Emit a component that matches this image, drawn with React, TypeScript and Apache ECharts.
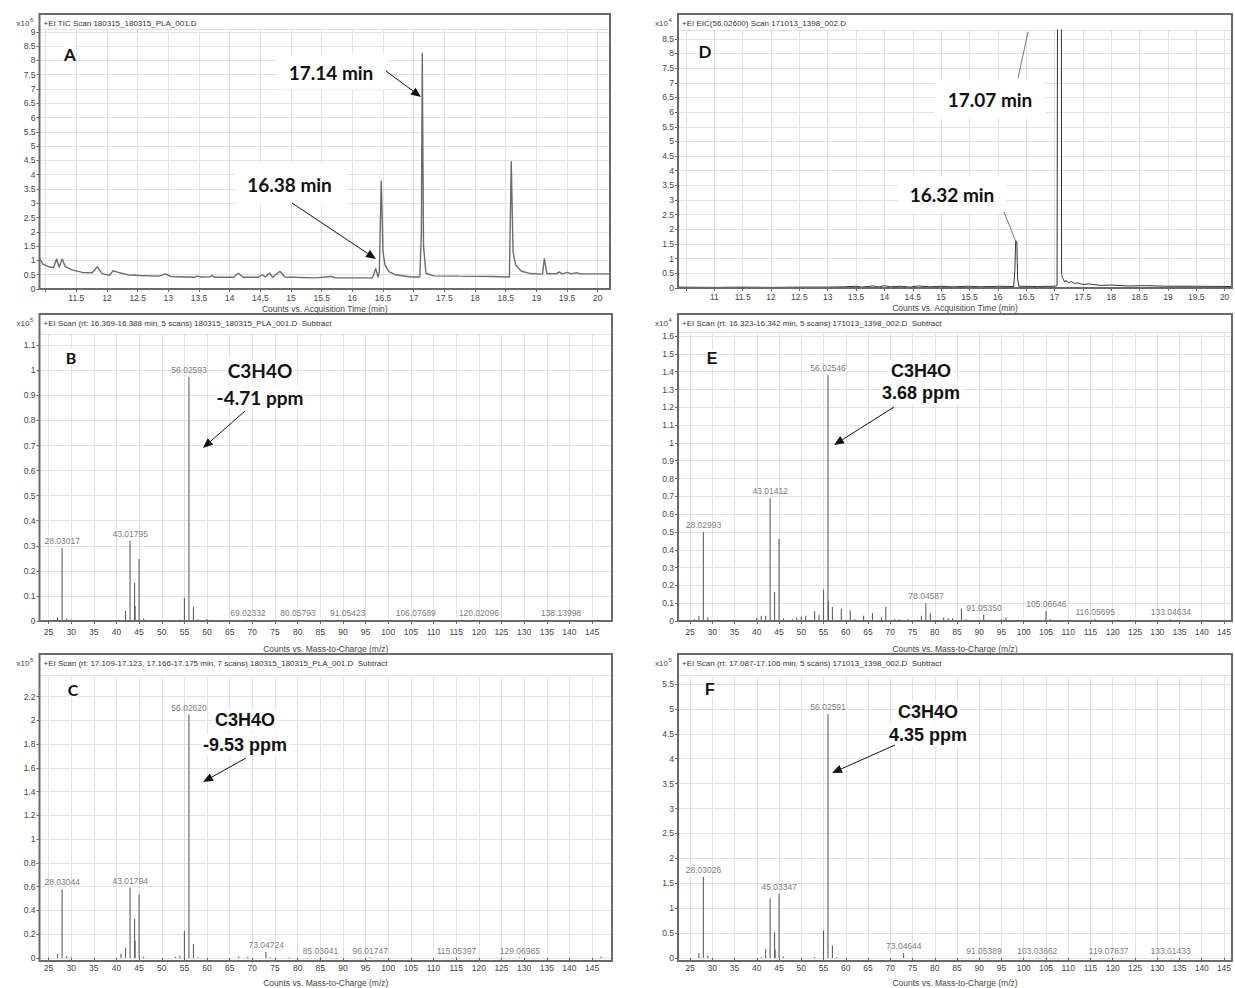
import React, { useEffect, useRef } from 'react';
import * as echarts from 'echarts';

// ---------- DATA ----------
// Panel A: TIC chromatogram (x10^6 counts) vs acquisition time (min)
const ticA: [number, number][] = [
  [10.9, 1.07], [10.96, 0.86], [11.05, 0.78], [11.13, 0.75], [11.18, 1.06], [11.22, 0.76], [11.27, 1.06],
  [11.32, 0.78], [11.44, 0.66], [11.6, 0.58], [11.76, 0.57], [11.84, 0.78], [11.92, 0.54], [12.04, 0.48],
  [12.1, 0.64], [12.17, 0.59], [12.33, 0.5], [12.53, 0.47], [12.85, 0.45], [12.95, 0.53], [13.04, 0.44],
  [13.42, 0.41], [13.48, 0.45], [13.53, 0.42], [13.68, 0.43], [13.71, 0.47], [13.76, 0.41], [14.06, 0.41],
  [14.14, 0.55], [14.22, 0.41], [14.47, 0.41], [14.53, 0.5], [14.58, 0.42], [14.65, 0.56], [14.7, 0.41],
  [14.82, 0.62], [14.9, 0.42], [15.4, 0.39], [15.66, 0.44], [15.72, 0.39], [16.33, 0.39], [16.38, 0.72],
  [16.42, 0.41], [16.44, 0.6], [16.47, 3.8], [16.5, 1.3], [16.53, 0.85], [16.6, 0.6], [16.7, 0.5],
  [16.95, 0.42], [17.1, 0.42], [17.125, 2.0], [17.14, 8.27], [17.16, 1.5], [17.2, 0.55], [17.33, 0.46],
  [17.72, 0.45], [18.29, 0.44], [18.56, 0.42], [18.59, 4.47], [18.62, 1.3], [18.66, 0.85], [18.75, 0.63],
  [18.9, 0.54], [19.1, 0.52], [19.13, 1.07], [19.17, 0.54], [19.33, 0.53], [19.37, 0.6], [19.42, 0.53],
  [19.51, 0.58], [19.56, 0.53], [19.66, 0.57], [19.71, 0.53], [20.2, 0.53],
];

// Panel D: EIC 56.02600 (x10^4 counts)
const eicD: [number, number][] = [
  [10.36, 0.03], [11, 0.02], [11.5, 0.03], [12, 0.02], [12.5, 0.03], [13, 0.03], [13.3, 0.04], [13.5, 0.06],
  [13.6, 0.03], [13.8, 0.07], [13.9, 0.04], [14, 0.08], [14.1, 0.04], [14.3, 0.06], [14.45, 0.03], [14.6, 0.07],
  [14.8, 0.04], [15, 0.06], [15.2, 0.04], [15.5, 0.06], [15.7, 0.04], [16, 0.06], [16.28, 0.05], [16.3, 0.6],
  [16.315, 1.58], [16.335, 1.58], [16.35, 0.3], [16.37, 0.06], [16.7, 0.05], [17.0, 0.06], [17.045, 0.08],
  [17.055, 12], [17.12, 12], [17.125, 0.5], [17.14, 0.35], [17.16, 0.28], [17.18, 0.2], [17.2, 0.26],
  [17.25, 0.18], [17.3, 0.22], [17.35, 0.15], [17.4, 0.18], [17.5, 0.12], [17.6, 0.14], [17.8, 0.09],
  [18.0, 0.1], [18.3, 0.07], [18.6, 0.08], [19, 0.06], [19.5, 0.06], [20.13, 0.05],
];

// Panel B: spectrum at 16.369-16.388 min (x10^5)
const specB: [number, number][] = [
  [25, 0.003], [27, 0.013], [28, 0.29], [29, 0.01], [30, 0.005], [39, 0.003], [41, 0.004], [42, 0.04],
  [43, 0.32], [44, 0.153], [44.12, 0.06], [45, 0.247], [46, 0.01], [47, 0.004], [49, 0.003], [53, 0.004],
  [54, 0.005], [55, 0.093], [56, 0.973], [57, 0.056], [58, 0.006], [60, 0.008], [61, 0.005], [63, 0.004],
  [69, 0.005], [80, 0.003], [91, 0.003], [96, 0.004], [106, 0.003], [120, 0.004], [138, 0.002],
];
const labelsB: [number, number, string][] = [
  [28.03, 0.29, '28.03017'], [43.018, 0.32, '43.01795'], [56.026, 0.973, '56.02593'],
  [69.023, 0.005, '69.02332'], [80.058, 0.003, '80.05793'], [91.054, 0.003, '91.05423'],
  [106.077, 0.003, '106.07689'], [120.021, 0.004, '120.02096'], [138.14, 0.002, '138.13998'],
];

// Panel C: spectrum at 17.109-17.175 min (x10^5)
const specC: [number, number][] = [
  [25, 0.005], [27, 0.033], [28, 0.577], [29, 0.015], [30, 0.005], [41, 0.036], [42, 0.084], [43, 0.593],
  [44, 0.33], [44.12, 0.145], [45, 0.535], [46, 0.012], [53, 0.01], [54, 0.02], [55, 0.23], [56, 2.05],
  [57, 0.117], [58, 0.006], [67, 0.012], [69, 0.01], [73, 0.05], [74, 0.006], [78, 0.005], [85, 0.004],
  [96, 0.004], [115, 0.004], [129, 0.004], [147, 0.012],
];
const labelsC: [number, number, string][] = [
  [28.03, 0.577, '28.03044'], [43.018, 0.593, '43.01794'], [56.026, 2.05, '56.02620'],
  [73.047, 0.05, '73.04724'], [85.03, 0.004, '85.03041'], [96.017, 0.004, '96.01747'],
  [115.054, 0.004, '115.05397'], [129.07, 0.004, '129.06985'],
];

// Panel E: spectrum at 16.323-16.342 min (x10^4)
const specE: [number, number][] = [
  [26, 0.01], [27, 0.03], [28, 0.5], [29, 0.02], [31, 0.005], [35, 0.006], [40, 0.02], [41, 0.03], [42, 0.03],
  [43, 0.69], [44, 0.163], [45, 0.46], [46, 0.015], [48, 0.01], [49, 0.02], [50, 0.025], [51, 0.03],
  [53, 0.055], [54, 0.035], [55, 0.177], [56, 1.38], [56.12, 0.11], [57, 0.08], [59, 0.07], [61, 0.06],
  [62, 0.01], [64, 0.03], [66, 0.045], [68, 0.02], [69, 0.08], [71, 0.01], [72, 0.01], [74, 0.01],
  [77, 0.03], [78, 0.1], [79, 0.045], [82, 0.02], [83, 0.015], [84, 0.015], [86, 0.07], [87, 0.01],
  [91, 0.035], [95, 0.01], [96, 0.02], [105, 0.055], [106, 0.01], [116, 0.01], [133, 0.01],
];
const labelsE: [number, number, string][] = [
  [28.03, 0.5, '28.02993'], [43.014, 0.69, '43.01412'], [56.025, 1.38, '56.02546'],
  [78.046, 0.1, '78.04587'], [91.054, 0.035, '91.05350'], [105.066, 0.055, '105.06646'],
  [116.057, 0.01, '116.05695'], [133.046, 0.01, '133.04634'],
];

// Panel F: spectrum at 17.087-17.106 min (x10^5)
const specF: [number, number][] = [
  [27, 0.1], [28, 1.63], [29, 0.05], [41, 0.02], [42, 0.18], [43, 1.2], [44, 0.51], [44.12, 0.17],
  [45, 1.29], [46, 0.03], [53, 0.02], [55, 0.55], [56, 4.89], [57, 0.25], [58, 0.02], [73, 0.1],
  [91, 0.005], [103, 0.005], [119, 0.005], [133, 0.005],
];
const labelsF: [number, number, string][] = [
  [28.03, 1.63, '28.03026'], [45.033, 1.29, '45.03347'], [56.026, 4.89, '56.02591'],
  [73.046, 0.1, '73.04644'], [91.054, 0.005, '91.05389'], [103.037, 0.005, '103.03662'],
  [119.078, 0.005, '119.07837'], [133.014, 0.005, '133.01433'],
];

const panelTitles = [
  '+EI TIC Scan 180315_180315_PLA_001.D',
  '+EI EIC(56.02600) Scan 171013_1398_002.D',
  '+EI Scan (rt: 16.369-16.388 min, 5 scans) 180315_180315_PLA_001.D  Subtract',
  '+EI Scan (rt: 16.323-16.342 min, 5 scans) 171013_1398_002.D  Subtract',
  '+EI Scan (rt: 17.109-17.123, 17.166-17.175 min, 7 scans) 180315_180315_PLA_001.D  Subtract',
  '+EI Scan (rt: 17.087-17.106 min, 5 scans) 171013_1398_002.D  Subtract',
];
const exponents = ['6', '4', '5', '4', '5', '5'];
const panelLetters = ['A', 'D', 'B', 'E', 'C', 'F'];
const timeAxisName = 'Counts vs. Acquisition Time (min)';
const mzAxisName = 'Counts vs. Mass-to-Charge (m/z)';

// ---------- LAYOUT ----------
const SMALL = '"Liberation Sans", Arial, sans-serif';
const grids = [
  { left: 39.5, top: 29, width: 570.5, height: 260 }, // A
  { left: 678, top: 30, width: 554, height: 258 }, // D
  { left: 39.5, top: 334, width: 572.5, height: 287 }, // B
  { left: 678, top: 332, width: 554, height: 289 }, // E
  { left: 39.5, top: 675, width: 572.5, height: 286 }, // C
  { left: 678, top: 675, width: 554, height: 286 }, // F
];
const boxTops = [14, 14, 314, 314, 654, 654];
const xCfg = [
  { min: 10.9, max: 20.2, iv: 0.5, hide: [11], name: timeAxisName, gap: 15, margin: 4 },
  { min: 10.36, max: 20.13, iv: 0.5, hide: [10.5], name: timeAxisName, gap: 15, margin: 4 },
  { min: 23.01, max: 149.4, iv: 5, hide: [], name: mzAxisName, gap: 23, margin: 6 },
  { min: 22.3, max: 146.8, iv: 5, hide: [], name: mzAxisName, gap: 23, margin: 6 },
  { min: 23.01, max: 149.4, iv: 5, hide: [], name: mzAxisName, gap: 20, margin: 5 },
  { min: 22.3, max: 146.8, iv: 5, hide: [], name: mzAxisName, gap: 20, margin: 5 },
];
const yCfg = [
  { max: 9.1, iv: 0.5 },
  { max: 8.8, iv: 0.5 },
  { max: 1.145, iv: 0.1 },
  { max: 1.623, iv: 0.1 },
  { max: 2.383, iv: 0.2 },
  { max: 5.68, iv: 0.5 },
];

function arrow(x1: number, y1: number, x2: number, y2: number, head = 10) {
  const ang = Math.atan2(y2 - y1, x2 - x1);
  const bx = x2 - head * Math.cos(ang);
  const by = y2 - head * Math.sin(ang);
  const w = head * 0.42;
  const px = -Math.sin(ang) * w;
  const py = Math.cos(ang) * w;
  return [
    { type: 'line', z: 30, shape: { x1, y1, x2: bx, y2: by }, style: { stroke: '#111', lineWidth: 1 } },
    { type: 'polygon', z: 30, shape: { points: [[x2, y2], [bx + px, by + py], [bx - px, by - py]] }, style: { fill: '#111' } },
  ];
}

function bigText(text: string, x: number, y: number, font: string, padding: number[] | number = 2) {
  return {
    type: 'text', z: 30, x, y,
    style: { text, font, fill: '#111', align: 'center', verticalAlign: 'middle', backgroundColor: '#fff', padding },
  };
}

export default function App() {
  const ref = useRef<HTMLDivElement>(null);
  useEffect(() => {
    if (!ref.current) return;
    const chart = echarts.init(ref.current, undefined, { renderer: 'svg' });

    const xAxis = xCfg.map((c, i) => ({
      type: 'value', gridIndex: i, min: c.min, max: c.max,
      minInterval: c.iv, maxInterval: c.iv, splitNumber: Math.round((c.max - c.min) / c.iv),
      axisLine: { show: false },
      axisTick: { show: true, inside: false, length: 3, lineStyle: { color: '#666' } },
      axisLabel: {
        fontSize: 8.5, color: '#444', fontFamily: SMALL, margin: c.margin,
        showMinLabel: false, showMaxLabel: false,
        formatter: (v: number) => (c.hide.some((h) => Math.abs(h - v) < 1e-6) ? '' : String(v)),
      },
      splitLine: { show: true, lineStyle: { color: '#e2e2e2', width: 1 } },
      name: c.name, nameLocation: 'middle', nameGap: c.gap,
      nameTextStyle: { fontSize: 8.5, color: '#444', fontFamily: SMALL },
    }));
    const yAxis = yCfg.map((c, i) => ({
      type: 'value', gridIndex: i, min: 0, max: c.max,
      minInterval: c.iv, maxInterval: c.iv, splitNumber: Math.round(c.max / c.iv),
      axisLine: { show: false },
      axisTick: { show: true, inside: false, length: 3, lineStyle: { color: '#666' } },
      axisLabel: { fontSize: 8.5, color: '#444', fontFamily: SMALL, margin: 4, showMaxLabel: false },
      splitLine: { show: true, lineStyle: { color: '#e2e2e2', width: 1 } },
    }));

    const stick = (data: [number, number][], idx: number) => ({
      type: 'custom', xAxisIndex: idx, yAxisIndex: idx, data, clip: true,
      renderItem: (_p: any, api: any) => {
        const x = api.value(0);
        const y = api.value(1);
        const p0 = api.coord([x, 0]);
        const p1 = api.coord([x, y]);
        return {
          type: 'line',
          shape: { x1: p0[0], y1: p0[1], x2: p1[0], y2: p1[1] },
          style: { stroke: '#5f5f5f', lineWidth: 1.1 },
        };
      },
    });
    const labels = (data: [number, number, string][], idx: number) => ({
      type: 'scatter', xAxisIndex: idx, yAxisIndex: idx, symbolSize: 1,
      itemStyle: { color: 'rgba(0,0,0,0)' },
      data: data.map((d) => ({ value: [d[0], d[1]], name: d[2] })),
      label: {
        show: true, position: 'top', distance: 2, formatter: '{b}',
        fontSize: 8.5, color: '#555', fontFamily: SMALL,
      },
      z: 5,
    });

    const series: any[] = [
      { type: 'line', xAxisIndex: 0, yAxisIndex: 0, data: ticA, showSymbol: false, clip: true,
        lineStyle: { color: '#6c6c6c', width: 1.4 } },
      { type: 'line', xAxisIndex: 1, yAxisIndex: 1, data: eicD, showSymbol: false, clip: true,
        lineStyle: { color: '#333', width: 1 } },
      stick(specB, 2), labels(labelsB, 2),
      stick(specE, 3), labels(labelsE, 3),
      stick(specC, 4), labels(labelsC, 4),
      stick(specF, 5), labels(labelsF, 5),
    ];

    const g: any[] = [];
    grids.forEach((gr, i) => {
      const top = boxTops[i];
      g.push({
        type: 'rect', z: 20,
        shape: { x: gr.left, y: top, width: gr.width, height: gr.top + gr.height - top },
        style: { fill: 'none', stroke: '#6a6a6a', lineWidth: 2 },
      });
      g.push({
        type: 'text', z: 21, x: gr.left + 4, y: top + 9,
        style: { text: panelTitles[i], font: `8px ${SMALL}`, fill: '#333', verticalAlign: 'middle' },
      });
      g.push({
        type: 'text', z: 21, x: gr.left - 10, y: top + 9,
        style: { text: 'x10', font: `8px ${SMALL}`, fill: '#444', align: 'right', verticalAlign: 'middle' },
      });
      g.push({
        type: 'text', z: 21, x: gr.left - 9.5, y: top + 6,
        style: { text: exponents[i], font: `6px ${SMALL}`, fill: '#444', align: 'left', verticalAlign: 'middle' },
      });
    });

    // panel letters
    const LATO = '"Lato", "Open Sans", sans-serif';
    const ARIAL = '"Liberation Sans", Arial, sans-serif';
    g.push(bigText(panelLetters[0], 70, 54, `bold 17px ${LATO}`, 0));
    g.push(bigText(panelLetters[1], 705, 51, `bold 17px ${LATO}`, 0));
    g.push(bigText(panelLetters[2], 71, 357, `bold 16px ${LATO}`, 0));
    g.push(bigText(panelLetters[3], 712, 358, `bold 16px ${ARIAL}`, 0));
    g.push(bigText(panelLetters[4], 73, 689, `bold 16px ${LATO}`, 0));
    g.push(bigText(panelLetters[5], 710, 689, `bold 16px ${ARIAL}`, 0));

    // Panel A annotations
    g.push(bigText('17.14 min', 333, 72, `bold 19px ${LATO}`, [7, 16, 9, 12]));
    g.push(...arrow(386, 71, 421, 97));
    g.push(bigText('16.38 min', 291, 184, `bold 19px ${LATO}`, [8, 15, 14, 12]));
    g.push(...arrow(292, 203, 376, 259));

    // Panel D annotations
    g.push({ type: 'line', z: 30, shape: { x1: 1018, y1: 78, x2: 1028, y2: 32 }, style: { stroke: '#555', lineWidth: 0.8 } });
    g.push({ type: 'line', z: 30, shape: { x1: 1004, y1: 212, x2: 1016, y2: 242 }, style: { stroke: '#555', lineWidth: 0.8 } });
    g.push(bigText('17.07 min', 990, 99, `bold 19px ${LATO}`, [10, 13, 10, 13]));
    g.push(bigText('16.32 min', 952, 194, `bold 19px ${LATO}`, [8, 12, 8, 12]));

    // Panel B
    g.push(bigText('C3H4O', 260, 370, `bold 19px ${LATO}`));
    g.push(bigText('-4.71 ppm', 260, 397, `bold 19px ${LATO}`));
    g.push(...arrow(245, 411, 203, 448));
    // Panel E
    g.push(bigText('C3H4O', 921, 371, `bold 18px ${ARIAL}`));
    g.push(bigText('3.68 ppm', 921, 393, `bold 18px ${ARIAL}`));
    g.push(...arrow(894, 407, 834, 445));
    // Panel C
    g.push(bigText('C3H4O', 245, 720, `bold 18px ${ARIAL}`));
    g.push(bigText('-9.53 ppm', 245, 745, `bold 18px ${ARIAL}`));
    g.push(...arrow(246, 758, 203, 782));
    // Panel F
    g.push(bigText('C3H4O', 928, 712, `bold 18px ${ARIAL}`));
    g.push(bigText('4.35 ppm', 928, 735, `bold 18px ${ARIAL}`));
    g.push(...arrow(895, 745, 832, 773));

    chart.setOption({
      animation: false,
      backgroundColor: '#fff',
      grid: grids.map((gr) => ({ ...gr, containLabel: false })),
      xAxis,
      yAxis,
      series,
      graphic: { elements: g },
    } as any);
    return () => chart.dispose();
  }, []);
  return (
    <div
      ref={ref}
      style={{ position: 'fixed', left: 0, top: 0, width: 1235, height: 988, background: '#fff' }}
    />
  );
}
